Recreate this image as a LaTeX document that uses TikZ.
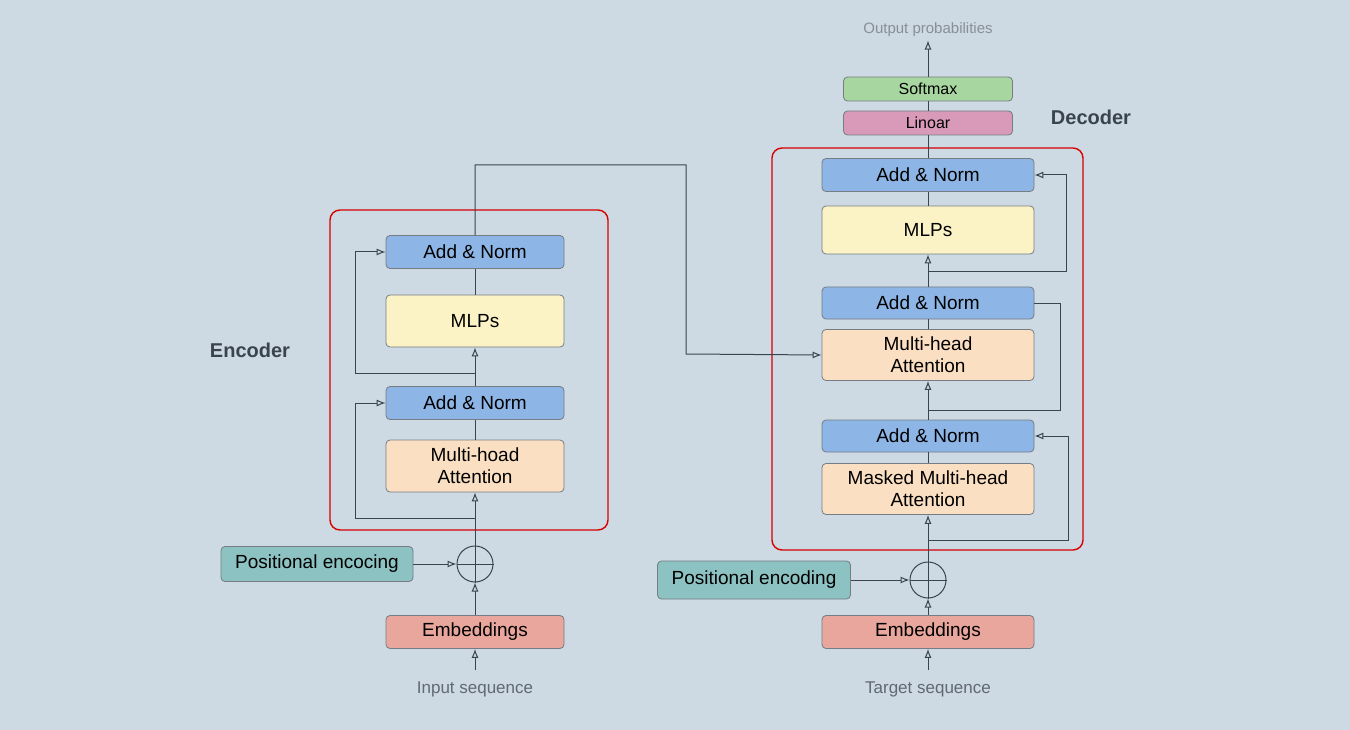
\documentclass[tikz,border=0pt]{standalone}
\usepackage{fontspec}
\setmainfont{Liberation Sans}
\usetikzlibrary{arrows.meta}
\definecolor{bg}{HTML}{CDD9E3}
\definecolor{an}{HTML}{8DB6E6}
\definecolor{mlp}{HTML}{FBF2C6}
\definecolor{att}{HTML}{FADFC2}
\definecolor{pe}{HTML}{8CC2C2}
\definecolor{emb}{HTML}{E8A69C}
\definecolor{sm}{HTML}{A8D6A0}
\definecolor{lin}{HTML}{D89AB8}
\definecolor{ln}{HTML}{3A4450}
\begin{document}
\begin{tikzpicture}[x=1pt,y=-1pt,
 box/.style={draw=ln!70,line width=0.8pt,rounded corners=4pt,align=center,inner sep=0pt,font=\fontsize{19}{22}\selectfont,baseline},
 wire/.style={draw=ln,line width=1pt},
 arr/.style={wire,-{Latex[open,length=9pt,width=7pt]}},
 frame/.style={draw=red!85!black,line width=1.4pt,rounded corners=10pt}]
\fill[bg] (0,0) rectangle (1350,730);
\useasboundingbox (0,0) rectangle (1350,730);
% ENCODER
\draw[frame] (330,210) rectangle (608,530);
\node[box,fill=an,minimum width=178pt,minimum height=33pt] (ea1) at (475,252) {Add \& Norm};
\node[box,fill=mlp,minimum width=178pt,minimum height=52pt] (em) at (475,321) {MLPs};
\node[box,fill=an,minimum width=178pt,minimum height=33pt] (ea2) at (475,403) {Add \& Norm};
\node[box,fill=att,minimum width=178pt,minimum height=52pt] (eat) at (475,466) {Multi-hoad\\Attention};
\node[draw=ln,line width=1pt,circle,minimum size=36pt,inner sep=0pt] (ec) at (475,564) {};
\node[box,fill=pe,minimum width=192pt,minimum height=35pt] (epe) at (317,564) {Positional encocing};
\node[box,fill=emb,minimum width=178pt,minimum height=33pt] (eem) at (475,632) {Embeddings};
\node[font=\fontsize{17}{20}\selectfont,text=ln!80] (ein) at (475,689) {Input sequence};
\node[font=\fontsize{20}{24}\selectfont\bfseries,text=ln] (elab) at (250,350) {Encoder};
\coordinate (es) at (475,670);
\draw[arr] (es) -- (eem.south);
\draw[arr] (eem.north) -- (ec.south);
\draw[wire] (ec.north) -- (ec.south) (ec.west) -- (ec.east);
\draw[arr] (ec.north) -- (eat.south);
\draw[wire] (eat.north) -- (ea2.south);
\draw[arr] (ea2.north) -- (em.south);
\draw[wire] (em.north) -- (ea1.south);
\draw[arr] (epe.east) -- (ec.west);
\coordinate (er1) at (475,518);
\coordinate (er2) at (475,373);
\draw[arr] (er1) -- (355,518) |- (ea2.west);
\draw[arr] (er2) -- (355,373) |- (ea1.west);
% DECODER
\draw[frame] (772,148) rectangle (1083,550);
\node[box,fill=sm,minimum width=169pt,minimum height=24pt,font=\fontsize{16}{19}\selectfont] (dsm) at (928,89) {Softmax};
\node[box,fill=lin,minimum width=169pt,minimum height=24pt,font=\fontsize{16}{19}\selectfont] (dli) at (928,123) {Linoar};
\node[box,fill=an,minimum width=212pt,minimum height=33pt] (da1) at (928,175) {Add \& Norm};
\node[box,fill=mlp,minimum width=212pt,minimum height=48pt] (dm) at (928,230) {MLPs};
\node[box,fill=an,minimum width=212pt,minimum height=32pt] (da2) at (928,303) {Add \& Norm};
\node[box,fill=att,minimum width=212pt,minimum height=51pt] (dat) at (928,355) {Multi-head\\Attention};
\node[box,fill=an,minimum width=212pt,minimum height=32pt] (da3) at (928,436) {Add \& Norm};
\node[box,fill=att,minimum width=212pt,minimum height=51pt] (dmat) at (928,489) {Masked Multi-head\\Attention};
\node[draw=ln,line width=1pt,circle,minimum size=36pt,inner sep=0pt] (dc) at (928,580) {};
\node[box,fill=pe,minimum width=193pt,minimum height=38pt] (dpe) at (754,580) {Positional encoding};
\node[box,fill=emb,minimum width=212pt,minimum height=33pt] (dem) at (928,632) {Embeddings};
\node[font=\fontsize{17}{20}\selectfont,text=ln!80] (din) at (928,689) {Target sequence};
\node[font=\fontsize{15}{18}\selectfont,text=ln!60] (dout) at (928,30) {Output probabilities};
\node[font=\fontsize{20}{24}\selectfont\bfseries,text=ln] (dlab) at (1091,117) {Decoder};
\coordinate (ds) at (928,670);
\draw[arr] (ds) -- (dem.south);
\draw[arr] (dem.north) -- (dc.south);
\draw[wire] (dc.north) -- (dc.south) (dc.west) -- (dc.east);
\draw[arr] (dc.north) -- (dmat.south);
\draw[wire] (dmat.north) -- (da3.south);
\draw[arr] (da3.north) -- (dat.south);
\draw[wire] (dat.north) -- (da2.south);
\draw[arr] (da2.north) -- (dm.south);
\draw[wire] (dm.north) -- (da1.south);
\draw[wire] (da1.north) -- (dli.south);
\draw[wire] (dli.north) -- (dsm.south);
\draw[arr] (dsm.north) -- (dout.south);
\draw[arr] (dpe.east) -- (dc.west);
\coordinate (dr1) at (928,540);
\coordinate (dr2) at (928,410);
\coordinate (dr3) at (928,272);
\draw[arr] (dr1) -- (1068,540) |- (da3.east);
\draw[wire] (dr2) -- (1060,410) |- (da2.east);
\draw[arr] (dr3) -- (1066,272) |- (da1.east);
% cross connection
\draw[arr] (ea1.north) -- (475,165) -| (686,354) -- (dat.west);
\end{tikzpicture}
\end{document}
